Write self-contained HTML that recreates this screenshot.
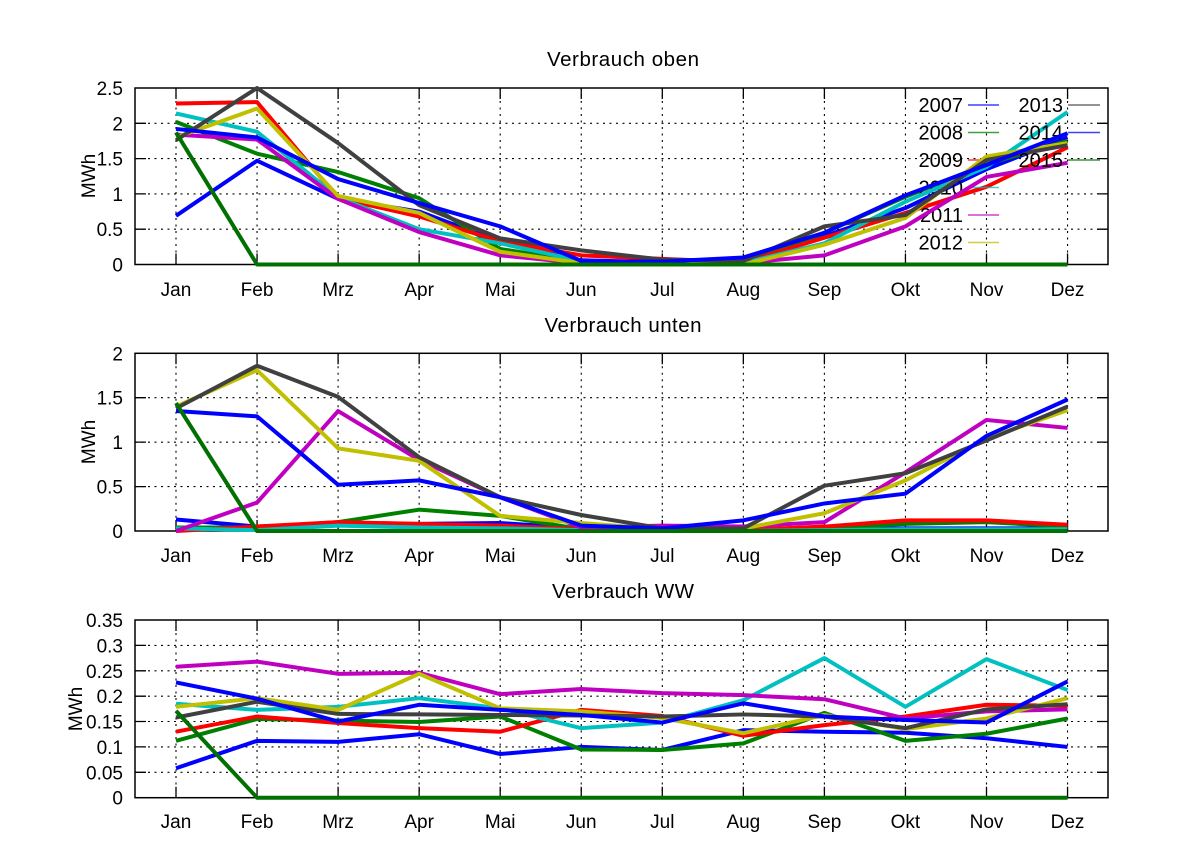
<!DOCTYPE html>
<html><head><meta charset="utf-8"><style>
html,body{margin:0;padding:0;background:#fff;}
svg{display:block;}
text{font-family:"Liberation Sans",Arial,sans-serif;fill:#000;}
.s{fill:none;stroke-width:4;stroke-linejoin:round;stroke-linecap:butt;}
.lg{stroke-width:1.6;opacity:0.75;}
</style></head><body>
<svg width="1200" height="858" viewBox="0 0 1200 858" xmlns="http://www.w3.org/2000/svg">
<rect width="1200" height="858" fill="#fff"/>

<!-- ================= PANEL 1 ================= -->
<text x="623" y="66" font-size="20.5" text-anchor="middle" textLength="152">Verbrauch oben</text>
<g stroke="#000" stroke-width="1.1" stroke-dasharray="2,4.5" fill="none">
<path d="M176 88V264.5M257.05 88V264.5M338.1 88V264.5M419.15 88V264.5M500.2 88V264.5M581.25 88V264.5M662.3 88V264.5M743.35 88V264.5M824.4 88V264.5M905.45 88V264.5M986.5 88V264.5M1067.55 88V264.5"/>
<path d="M135 123.3H1108M135 158.6H1108M135 193.9H1108M135 229.2H1108"/>
</g>
<g stroke="#000" stroke-width="1.3" fill="none">
<path d="M176 264.5v-11M257.05 264.5v-11M338.1 264.5v-11M419.15 264.5v-11M500.2 264.5v-11M581.25 264.5v-11M662.3 264.5v-11M743.35 264.5v-11M824.4 264.5v-11M905.45 264.5v-11M986.5 264.5v-11M1067.55 264.5v-11
M176 88v11M257.05 88v11M338.1 88v11M419.15 88v11M500.2 88v11M581.25 88v11M662.3 88v11M743.35 88v11M824.4 88v11M905.45 88v11M986.5 88v11M1067.55 88v11
M135 123.3h11M135 158.6h11M135 193.9h11M135 229.2h11
M1108 123.3h-11M1108 158.6h-11M1108 193.9h-11M1108 229.2h-11"/>
<rect x="135" y="88" width="973" height="176.5" stroke-width="1.5"/>
</g>
<g font-size="19" text-anchor="end">
<text x="123" y="95">2.5</text><text x="123" y="130.3">2</text><text x="123" y="165.6">1.5</text><text x="123" y="200.9">1</text><text x="123" y="236.2">0.5</text><text x="123" y="271.5">0</text>
</g>
<g font-size="19" text-anchor="middle">
<text x="176" y="296">Jan</text><text x="257.05" y="296">Feb</text><text x="338.1" y="296">Mrz</text><text x="419.15" y="296">Apr</text><text x="500.2" y="296">Mai</text><text x="581.25" y="296">Jun</text><text x="662.3" y="296">Jul</text><text x="743.35" y="296">Aug</text><text x="824.4" y="296">Sep</text><text x="905.45" y="296">Okt</text><text x="986.5" y="296">Nov</text><text x="1067.55" y="296">Dez</text>
</g>
<text font-size="19" text-anchor="middle" transform="translate(95,176) rotate(-90)">MWh</text>

<g font-size="20" text-anchor="end">
<text x="963" y="112">2007</text>
<line class="lg" x1="968" y1="105" x2="999" y2="105" stroke="#0000ff"/>
</g>
<g transform="translate(176 264.5) scale(81.05 -70.6)">
<polyline class="s" vector-effect="non-scaling-stroke" stroke="#0000ff" points="0,0.69 1,1.47 2,0.93 3,0.75 4,0.32 5,0.06 6,0.03 7,0.05 8,0.40 9,0.80 10,1.35 11,1.80"/>
</g>
<g font-size="20" text-anchor="end">
<text x="963" y="139.5">2008</text>
<line class="lg" x1="968" y1="132.5" x2="999" y2="132.5" stroke="#008000"/>
</g>
<g transform="translate(176 264.5) scale(81.05 -70.6)">
<polyline class="s" vector-effect="non-scaling-stroke" stroke="#008000" points="0,2.02 1,1.57 2,1.31 3,0.94 4,0.22 5,0.04 6,0.02 7,0.02 8,0.45 9,0.96 10,1.42 11,1.75"/>
</g>
<g font-size="20" text-anchor="end">
<text x="963" y="167">2009</text>
<line class="lg" x1="968" y1="160" x2="999" y2="160" stroke="#ff0000"/>
</g>
<g transform="translate(176 264.5) scale(81.05 -70.6)">
<polyline class="s" vector-effect="non-scaling-stroke" stroke="#ff0000" points="0,2.28 1,2.30 2,0.94 3,0.68 4,0.33 5,0.13 6,0.08 7,0.03 8,0.38 9,0.73 10,1.10 11,1.66"/>
</g>
<g font-size="20" text-anchor="end">
<text x="963" y="194.5">2010</text>
<line class="lg" x1="968" y1="187.5" x2="999" y2="187.5" stroke="#00c0c0"/>
</g>
<g transform="translate(176 264.5) scale(81.05 -70.6)">
<polyline class="s" vector-effect="non-scaling-stroke" stroke="#00c0c0" points="0,2.14 1,1.88 2,0.95 3,0.50 4,0.30 5,0.05 6,0.02 7,0.02 8,0.30 9,0.89 10,1.38 11,2.16"/>
</g>
<g font-size="20" text-anchor="end">
<text x="963" y="222">2011</text>
<line class="lg" x1="968" y1="215" x2="999" y2="215" stroke="#c000c0"/>
</g>
<g transform="translate(176 264.5) scale(81.05 -70.6)">
<polyline class="s" vector-effect="non-scaling-stroke" stroke="#c000c0" points="0,1.84 1,1.77 2,0.93 3,0.46 4,0.13 5,0.02 6,0.01 7,0.02 8,0.13 9,0.54 10,1.24 11,1.44"/>
</g>
<g font-size="20" text-anchor="end">
<text x="963" y="249.5">2012</text>
<line class="lg" x1="968" y1="242.5" x2="999" y2="242.5" stroke="#c0c000"/>
</g>
<g transform="translate(176 264.5) scale(81.05 -70.6)">
<polyline class="s" vector-effect="non-scaling-stroke" stroke="#c0c000" points="0,1.80 1,2.21 2,0.97 3,0.73 4,0.18 5,0.02 6,0.01 7,0 8,0.28 9,0.66 10,1.53 11,1.72"/>
</g>
<g font-size="20" text-anchor="end">
<text x="1063" y="112">2013</text>
<line class="lg" x1="1068" y1="105" x2="1100" y2="105" stroke="#404040"/>
</g>
<g transform="translate(176 264.5) scale(81.05 -70.6)">
<polyline class="s" vector-effect="non-scaling-stroke" stroke="#404040" points="0,1.76 1,2.50 2,1.72 3,0.84 4,0.37 5,0.20 6,0.07 7,0.05 8,0.54 9,0.70 10,1.48 11,1.69"/>
</g>
<g font-size="20" text-anchor="end">
<text x="1063" y="139.5">2014</text>
<line class="lg" x1="1068" y1="132.5" x2="1100" y2="132.5" stroke="#0000ff"/>
</g>
<g transform="translate(176 264.5) scale(81.05 -70.6)">
<polyline class="s" vector-effect="non-scaling-stroke" stroke="#0000ff" points="0,1.92 1,1.80 2,1.21 3,0.87 4,0.54 5,0.05 6,0.04 7,0.10 8,0.45 9,0.98 10,1.41 11,1.86"/>
</g>
<g font-size="20" text-anchor="end">
<text x="1063" y="167">2015</text>
<line class="lg" x1="1068" y1="160" x2="1100" y2="160" stroke="#007000"/>
</g>
<g transform="translate(176 264.5) scale(81.05 -70.6)">
<polyline class="s" vector-effect="non-scaling-stroke" stroke="#007000" points="0,1.87 1,0 11,0"/>
</g>

<!-- ================= PANEL 2 ================= -->
<text x="623" y="332" font-size="20.5" text-anchor="middle" textLength="157">Verbrauch unten</text>
<g stroke="#000" stroke-width="1.1" stroke-dasharray="2,4.5" fill="none">
<path d="M176 353.3V531M257.05 353.3V531M338.1 353.3V531M419.15 353.3V531M500.2 353.3V531M581.25 353.3V531M662.3 353.3V531M743.35 353.3V531M824.4 353.3V531M905.45 353.3V531M986.5 353.3V531M1067.55 353.3V531"/>
<path d="M135 397.7H1108M135 442.15H1108M135 486.6H1108"/>
</g>
<g stroke="#000" stroke-width="1.3" fill="none">
<path d="M176 531v-11M257.05 531v-11M338.1 531v-11M419.15 531v-11M500.2 531v-11M581.25 531v-11M662.3 531v-11M743.35 531v-11M824.4 531v-11M905.45 531v-11M986.5 531v-11M1067.55 531v-11
M176 353.3v11M257.05 353.3v11M338.1 353.3v11M419.15 353.3v11M500.2 353.3v11M581.25 353.3v11M662.3 353.3v11M743.35 353.3v11M824.4 353.3v11M905.45 353.3v11M986.5 353.3v11M1067.55 353.3v11
M135 397.7h11M135 442.15h11M135 486.6h11
M1108 397.7h-11M1108 442.15h-11M1108 486.6h-11"/>
<rect x="135" y="353.3" width="973" height="177.7" stroke-width="1.5"/>
</g>
<g font-size="19" text-anchor="end">
<text x="123" y="360.3">2</text><text x="123" y="404.7">1.5</text><text x="123" y="449.15">1</text><text x="123" y="493.6">0.5</text><text x="123" y="538">0</text>
</g>
<g font-size="19" text-anchor="middle">
<text x="176" y="562">Jan</text><text x="257.05" y="562">Feb</text><text x="338.1" y="562">Mrz</text><text x="419.15" y="562">Apr</text><text x="500.2" y="562">Mai</text><text x="581.25" y="562">Jun</text><text x="662.3" y="562">Jul</text><text x="743.35" y="562">Aug</text><text x="824.4" y="562">Sep</text><text x="905.45" y="562">Okt</text><text x="986.5" y="562">Nov</text><text x="1067.55" y="562">Dez</text>
</g>
<text font-size="19" text-anchor="middle" transform="translate(95,442) rotate(-90)">MWh</text>
<g transform="translate(176 531) scale(81.05 -88.85)">
<polyline class="s" vector-effect="non-scaling-stroke" stroke="#0000ff" points="0,0.13 1,0.05 2,0.08 3,0.08 4,0.09 5,0.03 6,0.01 7,0.01 8,0.02 9,0.03 10,0.03 11,0.03"/>
<polyline class="s" vector-effect="non-scaling-stroke" stroke="#008000" points="0,0.04 1,0.04 2,0.10 3,0.24 4,0.17 5,0.02 6,0.01 7,0.01 8,0.03 9,0.08 10,0.10 11,0.05"/>
<polyline class="s" vector-effect="non-scaling-stroke" stroke="#ff0000" points="0,0 1,0.05 2,0.10 3,0.08 4,0.06 5,0.02 6,0.01 7,0.01 8,0.05 9,0.12 10,0.12 11,0.07"/>
<polyline class="s" vector-effect="non-scaling-stroke" stroke="#00c0c0" points="0,0.03 1,0.01 2,0.06 3,0.04 4,0.03 5,0.01 6,0 7,0 8,0.01 9,0.02 10,0.02 11,0.02"/>
<polyline class="s" vector-effect="non-scaling-stroke" stroke="#c000c0" points="0,0 1,0.32 2,1.35 3,0.80 4,0.38 5,0.04 6,0.06 7,0.05 8,0.10 9,0.66 10,1.25 11,1.16"/>
<polyline class="s" vector-effect="non-scaling-stroke" stroke="#c0c000" points="0,1.40 1,1.81 2,0.93 3,0.79 4,0.17 5,0.09 6,0.02 7,0.03 8,0.20 9,0.57 10,1.04 11,1.36"/>
<polyline class="s" vector-effect="non-scaling-stroke" stroke="#404040" points="0,1.38 1,1.86 2,1.51 3,0.83 4,0.38 5,0.18 6,0.03 7,0.03 8,0.51 9,0.65 10,1.02 11,1.40"/>
<polyline class="s" vector-effect="non-scaling-stroke" stroke="#0000ff" points="0,1.35 1,1.29 2,0.52 3,0.57 4,0.38 5,0.06 6,0.03 7,0.12 8,0.31 9,0.42 10,1.07 11,1.48"/>
<polyline class="s" vector-effect="non-scaling-stroke" stroke="#007000" points="0,1.44 1,0 11,0"/>
</g>

<!-- ================= PANEL 3 ================= -->
<text x="623" y="598" font-size="20.5" text-anchor="middle" textLength="142">Verbrauch WW</text>
<g stroke="#000" stroke-width="1.1" stroke-dasharray="2,4.5" fill="none">
<path d="M176 620V797.7M257.05 620V797.7M338.1 620V797.7M419.15 620V797.7M500.2 620V797.7M581.25 620V797.7M662.3 620V797.7M743.35 620V797.7M824.4 620V797.7M905.45 620V797.7M986.5 620V797.7M1067.55 620V797.7"/>
<path d="M135 645.4H1108M135 670.8H1108M135 696.2H1108M135 721.5H1108M135 746.9H1108M135 772.3H1108"/>
</g>
<g stroke="#000" stroke-width="1.3" fill="none">
<path d="M176 797.7v-11M257.05 797.7v-11M338.1 797.7v-11M419.15 797.7v-11M500.2 797.7v-11M581.25 797.7v-11M662.3 797.7v-11M743.35 797.7v-11M824.4 797.7v-11M905.45 797.7v-11M986.5 797.7v-11M1067.55 797.7v-11
M176 620v11M257.05 620v11M338.1 620v11M419.15 620v11M500.2 620v11M581.25 620v11M662.3 620v11M743.35 620v11M824.4 620v11M905.45 620v11M986.5 620v11M1067.55 620v11
M135 645.4h11M135 670.8h11M135 696.2h11M135 721.5h11M135 746.9h11M135 772.3h11
M1108 645.4h-11M1108 670.8h-11M1108 696.2h-11M1108 721.5h-11M1108 746.9h-11M1108 772.3h-11"/>
<rect x="135" y="620" width="973" height="177.7" stroke-width="1.5"/>
</g>
<g font-size="19" text-anchor="end">
<text x="123" y="627">0.35</text><text x="123" y="652.4">0.3</text><text x="123" y="677.8">0.25</text><text x="123" y="703.2">0.2</text><text x="123" y="728.5">0.15</text><text x="123" y="753.9">0.1</text><text x="123" y="779.3">0.05</text><text x="123" y="804.7">0</text>
</g>
<g font-size="19" text-anchor="middle">
<text x="176" y="828">Jan</text><text x="257.05" y="828">Feb</text><text x="338.1" y="828">Mrz</text><text x="419.15" y="828">Apr</text><text x="500.2" y="828">Mai</text><text x="581.25" y="828">Jun</text><text x="662.3" y="828">Jul</text><text x="743.35" y="828">Aug</text><text x="824.4" y="828">Sep</text><text x="905.45" y="828">Okt</text><text x="986.5" y="828">Nov</text><text x="1067.55" y="828">Dez</text>
</g>
<text font-size="19" text-anchor="middle" transform="translate(82,709) rotate(-90)">MWh</text>
<g transform="translate(176 797.7) scale(81.05 -507.7)">
<polyline class="s" vector-effect="non-scaling-stroke" stroke="#0000ff" points="0,.058 1,.112 2,.110 3,.125 4,.086 5,.100 6,.094 7,.133 8,.130 9,.128 10,.117 11,.100"/>
<polyline class="s" vector-effect="non-scaling-stroke" stroke="#008000" points="0,.112 1,.155 2,.152 3,.149 4,.160 5,.095 6,.094 7,.107 8,.167 9,.112 10,.126 11,.156"/>
<polyline class="s" vector-effect="non-scaling-stroke" stroke="#ff0000" points="0,.130 1,.160 2,.147 3,.137 4,.130 5,.173 6,.161 7,.122 8,.143 9,.160 10,.183 11,.181"/>
<polyline class="s" vector-effect="non-scaling-stroke" stroke="#00c0c0" points="0,.185 1,.173 2,.179 3,.196 4,.176 5,.137 6,.148 7,.192 8,.275 9,.179 10,.273 11,.212"/>
<polyline class="s" vector-effect="non-scaling-stroke" stroke="#c000c0" points="0,.258 1,.268 2,.244 3,.246 4,.204 5,.214 6,.206 7,.202 8,.194 9,.156 10,.170 11,.174"/>
<polyline class="s" vector-effect="non-scaling-stroke" stroke="#c0c000" points="0,.179 1,.196 2,.173 3,.244 4,.176 5,.170 6,.157 7,.127 8,.163 9,.135 10,.156 11,.196"/>
<polyline class="s" vector-effect="non-scaling-stroke" stroke="#404040" points="0,.158 1,.189 2,.165 3,.164 4,.163 5,.162 6,.160 7,.164 8,.160 9,.137 10,.174 11,.184"/>
<polyline class="s" vector-effect="non-scaling-stroke" stroke="#0000ff" points="0,.227 1,.195 2,.150 3,.183 4,.173 5,.163 6,.148 7,.186 8,.160 9,.153 10,.148 11,.229"/>
<polyline class="s" vector-effect="non-scaling-stroke" stroke="#007000" points="0,.171 1,0 11,0"/>
</g>
</svg>
</body></html>
